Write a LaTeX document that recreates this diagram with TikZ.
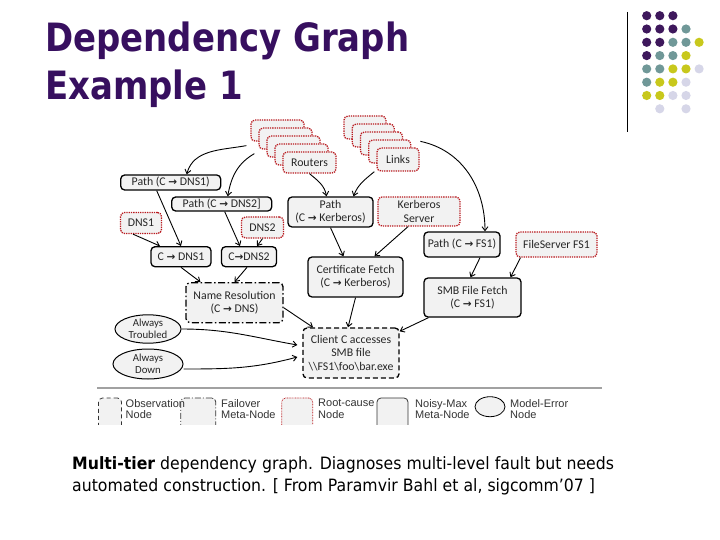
\documentclass[tikz,border=0pt]{standalone}
\usepackage{fontspec}
\setmainfont{Carlito}
\newfontfamily\titlefont{DejaVu Sans}[FakeStretch=0.87]
\newfontfamily\capfont{DejaVu Sans}[FakeStretch=0.925]
\newfontfamily\legfont{Liberation Sans}
\newfontfamily\arrowfont{DejaVu Sans}
\usetikzlibrary{arrows.meta, shapes.geometric}

\definecolor{titlepurple}{RGB}{55,15,95}
\definecolor{nodefill}{RGB}{242,242,242}
\definecolor{rootred}{RGB}{185,25,30}
\definecolor{dp}{RGB}{62,24,92}
\definecolor{dt}{RGB}{112,152,152}
\definecolor{dy}{RGB}{200,200,28}
\definecolor{dl}{RGB}{214,214,232}

\newcommand\rarr{{\arrowfont\bfseries\fontsize{10.5}{10}\selectfont\char"2192}}
\def\nodot{no}

\begin{document}
\begin{tikzpicture}[x=1pt, y=-1pt,
    >={Straight Barb[length=4pt,width=6pt]},
    base/.style={rounded corners=4pt, fill=nodefill, inner sep=1pt, align=center,
                 font=\fontsize{11.8}{13.3}\selectfont, text=black!85},
    noisy/.style={base, draw, line width=1.3pt},
    rootcause/.style={base, draw=rootred, line width=1.3pt, dash pattern=on 1.3pt off 1pt},
    failover/.style={base, draw, line width=1.3pt, dash pattern=on 7pt off 2.5pt on 1.5pt off 2.5pt},
    observ/.style={base, draw, line width=1.3pt, dash pattern=on 5pt off 3pt},
    modelerr/.style={ellipse, draw, line width=1pt, fill=nodefill, inner sep=0pt,
                     align=center, font=\fontsize{10.8}{12.5}\selectfont, text=black!85},
    dep/.style={->, line width=0.9pt},
    legtext/.style={font=\legfont\fontsize{11}{11.5}\selectfont, align=left,
                    anchor=north west, inner sep=0pt, text=black!80},
]
\useasboundingbox (0,0) rectangle (720,540);

% --- title and corner dots ---
\node[anchor=north west, inner sep=0pt, align=left, text=titlepurple,
      font=\titlefont\bfseries\fontsize{39}{47.7}\selectfont] (title) at (45,22)
    {Dependency Graph\\Example 1};
\draw[line width=1pt] (627,12) -- (627,132);
\foreach \lst [count=\r from 0] in {{dp,dp,dp},{dp,dp,dp,dt},{dp,dp,dt,dt,dy},
    {dp,dt,dt,dy},{dt,dt,dy,dy,dl},{dt,dy,dy,dl},{dy,dy,dl,dl},{no,dl,no,dl}}
  \foreach \c [count=\k from 0] in \lst
    {\ifx\c\nodot\else\fill[\c] ({646.7+13.1*\k},{15.7+13.3*\r}) circle (4.6pt);\fi}

% --- stacked root causes ---
\foreach \i in {1,...,4}
  \node[rootcause, minimum width=53pt, minimum height=21pt] (rt\i)
    at ({269.5+8*\i},{122.5+8*\i}) {};
\node[rootcause, minimum width=53pt, minimum height=21pt] (routers) at (309.5,162.5) {Routers};
\foreach \i in {1,...,4}
  \node[rootcause, minimum width=42pt, minimum height=23pt] (lk\i)
    at ({356.75+8.25*\i},{119.5+8*\i}) {};
\node[rootcause, minimum width=42pt, minimum height=23pt] (links) at (398,159.5) {Links};

% --- paths and services ---
\node[noisy, minimum width=100pt, minimum height=15pt] (pdns1) at (170.7,182.5) {Path (C \rarr{} DNS1)};
\node[noisy, minimum width=100pt, minimum height=14pt] (pdns2) at (221.7,204) {Path (C \rarr{} DNS2]};
\node[rootcause, minimum width=41pt, minimum height=21pt] (dns1) at (141,223) {DNS1};
\node[rootcause, minimum width=42pt, minimum height=21pt] (dns2) at (262.5,227.5) {DNS2};
\node[noisy, minimum width=60pt, minimum height=20pt] (cdns1) at (181,256.7) {C \rarr{} DNS1};
\node[noisy, minimum width=55pt, minimum height=20pt] (cdns2) at (249,256.7) {C\rarr{}DNS2};
\node[failover, minimum width=97pt, minimum height=40pt] (nameres) at (234.5,302.7)
    {Name Resolution\\(C \rarr{} DNS)};
\node[noisy, minimum width=85pt, minimum height=30pt] (pkerb) at (330.5,212)
    {Path\\(C \rarr{} Kerberos)};
\node[rootcause, minimum width=82pt, minimum height=29pt] (kerb) at (419,211.5)
    {Kerberos\\Server};
\node[noisy, minimum width=95pt, minimum height=40pt] (cert) at (355.5,277)
    {Certificate Fetch\\(C \rarr{} Kerberos)};
\node[noisy, minimum width=76pt, minimum height=25pt] (pfs1) at (462,244.5) {Path (C \rarr{} FS1)};
\node[rootcause, minimum width=81pt, minimum height=25pt] (fs1) at (556.5,244.5) {FileServer FS1};
\node[noisy, minimum width=97pt, minimum height=39pt] (smb) at (472.5,297.5)
    {SMB File Fetch\\(C \rarr{} FS1)};
\node[observ, minimum width=96pt, minimum height=50pt] (client) at (351,353)
    {Client C accesses\\SMB file\\\textbackslash\textbackslash FS1\textbackslash foo\textbackslash bar.exe};
\node[modelerr, minimum width=66pt, minimum height=27pt] (troubled) at (148,329) {Always\\Troubled};
\node[modelerr, minimum width=70pt, minimum height=30pt] (down) at (148,364) {Always\\Down};

% --- dependencies ---
\draw[dep] ([shift={(-4pt,-4pt)}]rt1.south west) to[out=190,in=75] ([xshift=16pt]pdns1.north);
\draw[dep] ([shift={(-4pt,-4pt)}]rt2.south west) to[out=210,in=80] ([xshift=6pt]pdns2.north);
\draw[dep] (routers.south) to[out=-40,in=100] ([xshift=-4pt]pkerb.north);
\draw[dep] ([xshift=-2pt]links.south west) to[out=-140,in=70] ([xshift=23pt]pkerb.north);
\draw[dep] ([shift={(9pt,-2pt)}]lk4.north east) to[out=-12,in=90] ([xshift=23pt]pfs1.north);
\draw[dep] ([xshift=-14pt]pdns1.south) -- (cdns1.north);
\draw[dep] ([xshift=3pt]pdns2.south) -- ([xshift=-9pt]cdns2.north);
\draw[dep] ([xshift=-8pt]dns1.south) -- ([xshift=-21pt]cdns1.north);
\draw[dep] (dns2.south) -- ([xshift=8pt]cdns2.north);
\draw[dep] (cdns1.south) -- ([xshift=-34pt]nameres.north);
\draw[dep] ([xshift=-2pt]cdns2.south) -- (nameres.north);
\draw[dep] (pkerb.south) -- ([xshift=-12pt]cert.north);
\draw[dep] ([xshift=-11pt]kerb.south) -- ([xshift=19pt]cert.north);
\draw[dep] ([xshift=18pt]pfs1.south) -- ([xshift=-2pt]smb.north);
\draw[dep] ([xshift=-36pt]fs1.south) -- ([xshift=38pt]smb.north);
\draw[dep] ([yshift=-5pt]nameres.east) -- ([xshift=-38pt]client.north);
\draw[dep] (cert.south) -- ([xshift=-3pt]client.north);
\draw[dep] ([xshift=-44pt]smb.south) -- ([yshift=-4pt]client.north east);
\draw[dep] (troubled.east) to[out=0,in=170] ([shift={(-5pt,8pt)}]client.west);
\draw[dep] ([yshift=-5pt]down.east) to[out=0,in=195] ([shift={(-5pt,-4pt)}]client.west);

% --- legend ---
\draw[line width=2pt, black!37] (97,388) -- (602,388);
\begin{scope}
  \clip (90,392) rectangle (610,424);
  \node[observ, line width=0.8pt, draw=black!80, dash pattern=on 4pt off 3pt,
        minimum width=23pt, minimum height=34pt] (lobs) at (110,415) {};
  \node[failover, line width=0.8pt, draw=black!80, dash pattern=on 6pt off 2pt on 1pt off 2pt,
        minimum width=35pt, minimum height=34pt] (lfail) at (198.3,415) {};
  \node[rootcause, line width=0.7pt, dash pattern=on 0.8pt off 0.8pt,
        minimum width=31pt, minimum height=34pt] (lroot) at (297.2,415) {};
  \node[noisy, line width=0.8pt, draw=black!80,
        minimum width=31pt, minimum height=34pt] (lnoisy) at (392.5,415) {};
\end{scope}
\node[modelerr, line width=0.8pt, minimum width=30pt, minimum height=20pt] (lerr) at (490,406.7) {};
\node[legtext] (tobs) at (125.5,399) {Observation\\Node};
\node[legtext] (tfail) at (221,399) {Failover\\Meta-Node};
\node[legtext] (troot) at (318,399) {Root-cause\\Node};
\node[legtext] (tnoisy) at (415,399) {Noisy-Max\\Meta-Node};
\node[legtext] (terr) at (510,399) {Model-Error\\Node};

% --- caption ---
\node[anchor=north west, inner sep=0pt, align=left,
      font=\capfont\fontsize{17}{22}\selectfont] (caption) at (72,456)
    {\textbf{Multi-tier} dependency graph. Diagnoses multi-level fault but needs\\
     automated construction. [ From Paramvir Bahl et al, sigcomm’07 ]};
\end{tikzpicture}
\end{document}
